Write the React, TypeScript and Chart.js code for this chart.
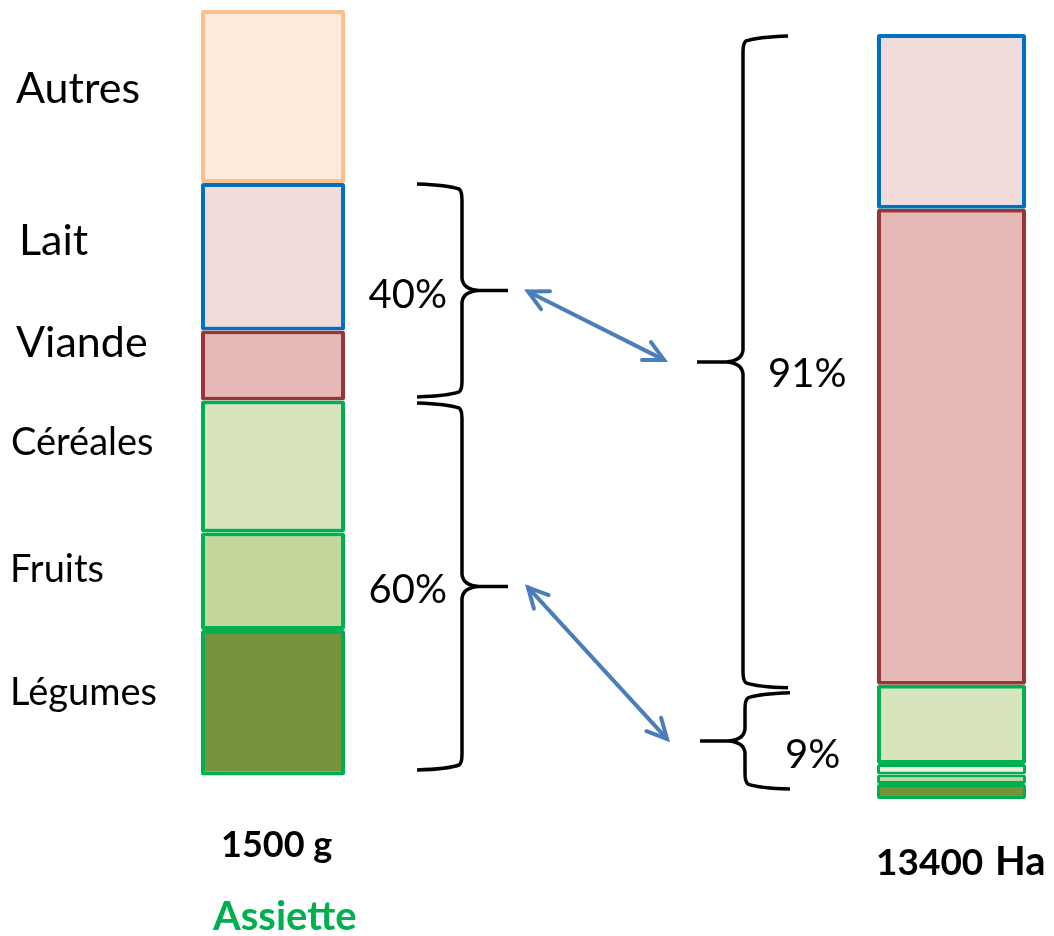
import React, { useEffect, useRef } from 'react';
import { Chart, registerables } from 'chart.js';

Chart.register(...registerables);

// ---------------- data ----------------
const barLabels = ['Assiette', 'Surface'];
// stacked bottom -> top
const plateCategories = ['Légumes', 'Fruits', 'Céréales', 'Viande', 'Lait', 'Autres'];
const plateGrams = [285, 191, 259, 137, 289, 339];
const landCategories = ['Légumes', 'Fruits', 'Autres végétaux', 'Céréales', 'Viande', 'Lait'];
const landHectares = [265, 165, 185, 1385, 8340, 3060];
const shareLabels = ['40%', '60%', '91%', '9%'];
const plateUnit = 'g';
const landUnit = 'Ha';

// ---------------- styles ----------------
const FILL: Record<string, string> = {
  Autres: '#FDEADA',
  Lait: '#F2DCDB',
  Viande: '#E6B9B8',
  'Céréales': '#D7E4BD',
  Fruits: '#C3D69B',
  'Légumes': '#77933C',
  'Autres végétaux': '#EBF1DE',
};
const BORDER: Record<string, string> = {
  Autres: '#FAC090',
  Lait: '#0070C0',
  Viande: '#953735',
  'Céréales': '#00B050',
  Fruits: '#00B050',
  'Légumes': '#00B050',
  'Autres végétaux': '#00B050',
};

const FONT = 'Lato, "Open Sans", sans-serif';

const sum = (a: number[]) => a.reduce((s, v) => s + v, 0);
const plateTotal = sum(plateGrams);
const landTotal = sum(landHectares);

// side labels (top -> bottom) layout
const sideLabelLayout = [
  { name: 'Autres', x: 16, baseline: 103, size: 43 },
  { name: 'Lait', x: 19, baseline: 255, size: 43 },
  { name: 'Viande', x: 16, baseline: 357, size: 43 },
  { name: 'Céréales', x: 11, baseline: 455, size: 38 },
  { name: 'Fruits', x: 10, baseline: 582, size: 38 },
  { name: 'Légumes', x: 10, baseline: 705, size: 38 },
];

// brace groups
const braceGroups = [
  { axis: 'y', cats: plateCategories, vals: plateGrams, from: 'Viande', to: 'Lait', label: shareLabels[0],
    xArm: 417, xSpine: 462, xTip: 508, insetTop: 1, insetBottom: 3.5, labelX: 447, labelAlign: 'right', labelDy: 18 },
  { axis: 'y', cats: plateCategories, vals: plateGrams, from: 'Légumes', to: 'Céréales', label: shareLabels[1],
    xArm: 417, xSpine: 462, xTip: 508, insetTop: 2.5, insetBottom: 5.5, labelX: 447, labelAlign: 'right', labelDy: 17 },
  { axis: 'y2', cats: landCategories, vals: landHectares, from: 'Viande', to: 'Lait', label: shareLabels[2],
    xArm: 788, xSpine: 743, xTip: 697, insetTop: 2, insetBottom: -3, labelX: 768, labelAlign: 'left', labelDy: 25 },
  { axis: 'y2', cats: landCategories, vals: landHectares, from: 'Légumes', to: 'Céréales', label: shareLabels[3],
    xArm: 790, xSpine: 745, xTip: 700, insetTop: 8, insetBottom: 10, labelX: 785, labelAlign: 'left', labelDy: 27 },
];
const arrowLinks = [
  [0, 2],
  [1, 3],
];

function stackRange(cats: string[], vals: number[], from: string, to: string) {
  const i0 = cats.indexOf(from);
  const i1 = cats.indexOf(to);
  const lower = sum(vals.slice(0, i0));
  const upper = sum(vals.slice(0, i1 + 1));
  return { lower, upper };
}

function drawBrace(ctx: CanvasRenderingContext2D, xArm: number, xSpine: number, xTip: number, yTop: number, yBot: number) {
  const yMid = (yTop + yBot) / 2;
  const d = Math.sign(xTip - xSpine);
  const r = 12;
  ctx.beginPath();
  ctx.moveTo(xArm, yTop);
  ctx.quadraticCurveTo(xSpine - d * 14, yTop + 1, xSpine - d * 3, yTop + 5);
  ctx.quadraticCurveTo(xSpine, yTop + 7, xSpine, yTop + r + 4);
  ctx.lineTo(xSpine, yMid - r);
  ctx.quadraticCurveTo(xSpine + d * 1, yMid - 1, xSpine + d * r * 1.4, yMid);
  ctx.lineTo(xTip, yMid);
  ctx.moveTo(xSpine + d * r * 1.4, yMid);
  ctx.quadraticCurveTo(xSpine + d * 1, yMid + 1, xSpine, yMid + r);
  ctx.lineTo(xSpine, yBot - r - 4);
  ctx.quadraticCurveTo(xSpine, yBot - 7, xSpine - d * 3, yBot - 5);
  ctx.quadraticCurveTo(xSpine - d * 14, yBot - 1, xArm, yBot);
  ctx.stroke();
  return { x: xTip, y: yMid };
}

function arrowHead(ctx: CanvasRenderingContext2D, x: number, y: number, ang: number) {
  const L = 22;
  const a = (27 * Math.PI) / 180;
  ctx.beginPath();
  ctx.moveTo(x - L * Math.cos(ang - a), y - L * Math.sin(ang - a));
  ctx.lineTo(x, y);
  ctx.lineTo(x - L * Math.cos(ang + a), y - L * Math.sin(ang + a));
  ctx.stroke();
}

const overlayPlugin = {
  id: 'overlay',
  afterDatasetsDraw(chart: any) {
    const { ctx, scales } = chart;
    ctx.save();

    // braces + share labels
    ctx.strokeStyle = '#000000';
    ctx.lineWidth = 3.5;
    ctx.lineJoin = 'round';
    ctx.lineCap = 'butt';
    const tips: { x: number; y: number }[] = [];
    braceGroups.forEach((g) => {
      const sc = scales[g.axis];
      const { lower, upper } = stackRange(g.cats, g.vals, g.from, g.to);
      const yTop = sc.getPixelForValue(upper) + g.insetTop;
      const yBot = sc.getPixelForValue(lower) - g.insetBottom;
      const tip = drawBrace(ctx, g.xArm, g.xSpine, g.xTip, yTop, yBot);
      tips.push(tip);
      ctx.fillStyle = '#000000';
      ctx.font = `40px ${FONT}`;
      ctx.textAlign = g.labelAlign as CanvasTextAlign;
      ctx.textBaseline = 'alphabetic';
      ctx.fillText(g.label, g.labelX, tip.y + g.labelDy);
    });

    // arrows
    ctx.strokeStyle = '#4A7EBB';
    ctx.lineWidth = 4;
    ctx.lineCap = 'round';
    ctx.lineJoin = 'miter';
    arrowLinks.forEach(([a, b]) => {
      const x1 = tips[a].x + 20;
      const y1 = tips[a].y + 1;
      const x2 = tips[b].x - 33;
      const y2 = tips[b].y - 2;
      const ang = Math.atan2(y2 - y1, x2 - x1);
      ctx.beginPath();
      ctx.moveTo(x1, y1);
      ctx.lineTo(x2, y2);
      ctx.stroke();
      arrowHead(ctx, x2, y2, ang);
      arrowHead(ctx, x1, y1, ang + Math.PI);
    });

    // side category labels
    ctx.fillStyle = '#000000';
    ctx.textAlign = 'left';
    ctx.textBaseline = 'alphabetic';
    sideLabelLayout.forEach((l) => {
      ctx.font = `${l.size}px ${FONT}`;
      ctx.fillText(l.name, l.x, l.baseline);
    });

    // totals
    ctx.font = `bold 36px ${FONT}`;
    ctx.fillText(`${plateTotal} ${plateUnit}`, 221, 857);
    ctx.fillStyle = '#00B050';
    ctx.font = `bold 40px ${FONT}`;
    ctx.fillText(barLabels[0], 213, 930);
    ctx.fillStyle = '#000000';
    ctx.font = `bold 37px ${FONT}`;
    ctx.fillText(`${landTotal}`, 876, 875);
    ctx.font = `bold 40px ${FONT}`;
    ctx.fillText(landUnit, 995, 875);

    ctx.restore();
  },
};

export default function App() {
  const ref = useRef<HTMLCanvasElement | null>(null);

  useEffect(() => {
    document.body.style.margin = '0';
    const canvas = ref.current;
    if (!canvas) return;

    const radius = { topLeft: 2, topRight: 2, bottomLeft: 2, bottomRight: 2 };
    const plateSets = plateCategories.map((c, i) => ({
      label: c,
      data: [plateGrams[i], null],
      yAxisID: 'y',
      backgroundColor: FILL[c],
      borderColor: BORDER[c],
      borderWidth: 4,
      borderSkipped: false,
      borderRadius: radius,
      inflateAmount: 0,
      barThickness: 144,
      clip: false as any,
    }));
    const landSets = landCategories.map((c, i) => ({
      label: c,
      data: [null, landHectares[i]],
      yAxisID: 'y2',
      backgroundColor: FILL[c],
      borderColor: BORDER[c],
      borderWidth: landHectares[i] < 300 ? 3 : 4,
      borderSkipped: false,
      borderRadius: radius,
      inflateAmount: 0,
      barThickness: 149,
      clip: false as any,
    }));

    const chart = new Chart(canvas, {
      type: 'bar',
      data: { labels: barLabels, datasets: [...plateSets, ...landSets] as any },
      options: {
        animation: false,
        responsive: false,
        maintainAspectRatio: false,
        layout: { padding: { left: 273, right: 102.5, top: 10, bottom: 160.5 } },
        plugins: { legend: { display: false }, tooltip: { enabled: false } },
        scales: {
          x: { type: 'category', offset: false, stacked: true, display: false },
          y: { type: 'linear', stacked: true, display: false, min: 0, max: plateTotal },
          y2: { type: 'linear', stacked: true, display: false, min: 412, max: 13820, position: 'right' },
        },
      },
      plugins: [overlayPlugin],
    });
    return () => chart.destroy();
  }, []);

  return (
    <div style={{ width: 1054, height: 936, background: '#ffffff' }}>
      <canvas ref={ref} width={1054} height={936} style={{ display: 'block', width: 1054, height: 936 }} />
    </div>
  );
}
